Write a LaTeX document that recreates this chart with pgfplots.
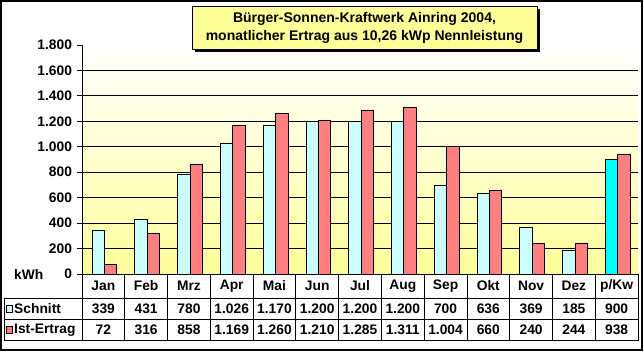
\documentclass[border=0pt]{standalone}
\usepackage{fontspec}
\setmainfont{Liberation Sans}
\usepackage{pgfplots}
\pgfplotsset{compat=1.18}
\definecolor{cyanL}{RGB}{204,255,255}
\definecolor{salmon}{RGB}{255,128,128}
\definecolor{cyanB}{RGB}{0,255,255}
\definecolor{ttl}{RGB}{255,255,153}
\definecolor{bgy}{RGB}{255,255,155}
\begin{document}
\begin{tikzpicture}[x=1pt,y=1pt,font=\fontsize{13.8}{16}\selectfont\bfseries]
\useasboundingbox (0,0) rectangle (644,-352);
\begin{axis}[at={(82pt,-274pt)}, anchor=south west, scale only axis,
  width=556pt, height=229pt,
  xmin=-0.5, xmax=12.5, ymin=0, ymax=1800, xtick=\empty,
  ytick={200,400,...,1600}, extra y ticks={0,1800}, extra y tick style={grid=none},
  ymajorgrids, grid style={black, line width=0.8pt},
  ytick pos=left, tick align=outside, major tick length=5pt,
  tick style={black, line width=0.8pt},
  axis line style={draw=none},
  axis background/.style={shade, top color=white, bottom color=bgy},
  yticklabel style={font=\fontsize{13.8}{16}\selectfont\bfseries, xshift=-1.5pt},
  /pgf/number format/.cd, 1000 sep={.}, assume math mode=true, /pgfplots/.cd,
  ybar, bar width=0.29, clip=false]
\addplot[fill=cyanL, draw=black, line width=0.8pt, bar shift=-0.12] coordinates {
(0,339) (1,431) (2,780) (3,1026) (4,1170) (5,1200) (6,1200) (7,1200) (8,700) (9,636) (10,369) (11,185)};
\addplot[fill=cyanB, draw=black, line width=0.8pt, bar shift=-0.12] coordinates {(12,900)};
\addplot[fill=salmon, draw=black, line width=0.8pt, bar shift=0.17] coordinates {
(0,72) (1,316) (2,858) (3,1169) (4,1260) (5,1210) (6,1285) (7,1311) (8,1004) (9,660) (10,240) (11,244) (12,938)};
\end{axis}
% axis lines
\draw[line width=0.8pt] (82,-45) -- (82,-274) -- (638,-274);
% table
\def\cw{42.77}
\foreach \k in {0,...,13} \draw[line width=0.8pt] ({82+\k*\cw},-274) -- ({82+\k*\cw},-340.5);
\draw[line width=0.8pt] (4,-298) -- (638,-298);
\draw[line width=0.8pt] (4,-319.5) -- (638,-319.5);
\draw[line width=0.8pt] (4,-340.5) -- (638,-340.5);
\draw[line width=0.8pt] (4,-298) -- (4,-340.5);
\foreach \t [count=\i from 0] in {Jan,Feb,Mrz,Apr,Mai,Jun,Jul,Aug,Sep,Okt,Nov,Dez,p/Kw}
  \node at ({82+(\i+0.5)*\cw},-286) {\t};
\foreach \t [count=\i from 0] in {339,431,780,1.026,1.170,1.200,1.200,1.200,700,636,369,185,900}
  \node at ({82+(\i+0.5)*\cw},-308.8) {\t};
\foreach \t [count=\i from 0] in {72,316,858,1.169,1.260,1.210,1.285,1.311,1.004,660,240,244,938}
  \node at ({82+(\i+0.5)*\cw},-330) {\t};
\draw[fill=cyanL, line width=0.6pt] (6,-305.5) rectangle (12.5,-312);
\node[anchor=west, inner sep=1pt] at (13,-308.8) {Schnitt};
\draw[fill=salmon, line width=0.6pt] (6,-326.5) rectangle (12.5,-333);
\node[anchor=west, inner sep=1pt] at (13,-330) {Ist-Ertrag};
\node[anchor=west, inner sep=0pt] at (14,-274) {kWh};
% title
\fill[black] (195,-9) rectangle (540,-52);
\draw[fill=ttl, line width=0.8pt] (192,-6) rectangle (537,-49);
\node[align=center, font=\fontsize{14}{18}\selectfont\bfseries] at (364.5,-27.5)
  {Bürger-Sonnen-Kraftwerk Ainring 2004,\\monatlicher Ertrag aus 10,26 kWp Nennleistung};
% frame
\draw[line width=1.2pt] (1,-1) rectangle (642,-350);
\end{tikzpicture}
\end{document}
